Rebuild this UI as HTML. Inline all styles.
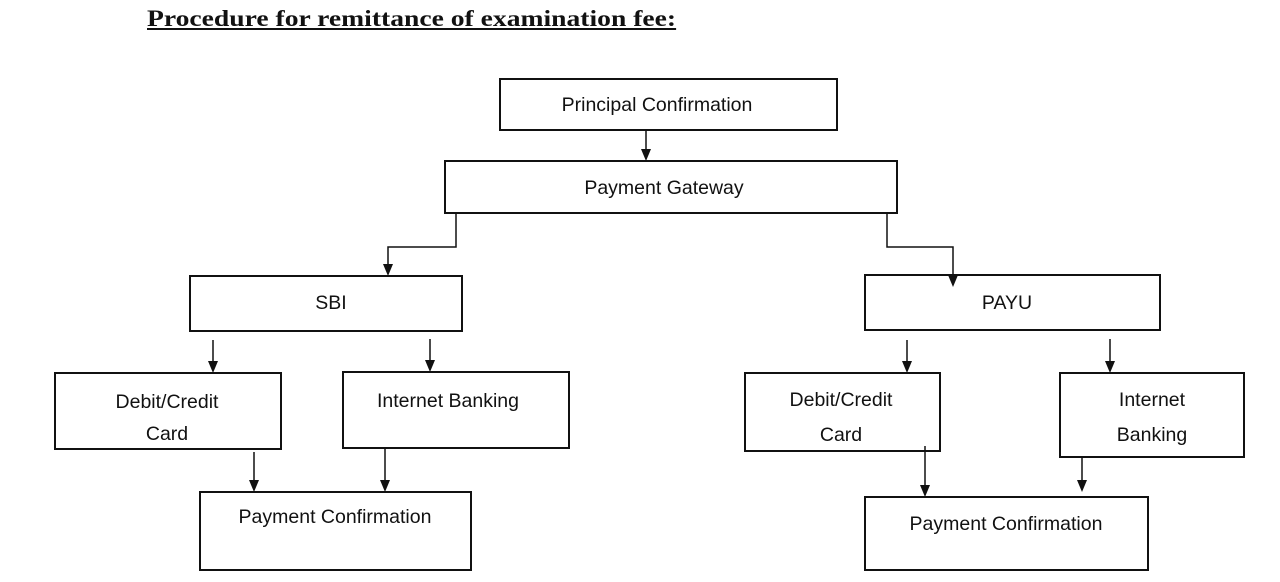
<!DOCTYPE html>
<html><head><meta charset="utf-8"><style>
body{margin:0;width:1280px;height:582px;background:#fff;overflow:hidden;position:relative;font-family:"Liberation Sans",sans-serif}
.t{position:absolute;left:147px;top:6px;font-family:"Liberation Serif",serif;font-weight:bold;font-size:23px;text-decoration:underline;color:#111;transform:scaleX(1.2);transform-origin:0 0;white-space:nowrap}
svg{position:absolute;left:0;top:0}
text{font-family:"Liberation Sans",sans-serif;font-size:19.5px;fill:#111}
</style></head><body>
<div class="t">Procedure for remittance of examination fee:</div>
<svg width="1280" height="582">
<g fill="none" stroke="#111" stroke-width="2">
<rect x="500" y="79" width="337" height="51"/>
<rect x="445" y="161" width="452" height="52"/>
<rect x="190" y="276" width="272" height="55"/>
<rect x="865" y="275" width="295" height="55"/>
<rect x="55" y="373" width="226" height="76"/>
<rect x="343" y="372" width="226" height="76"/>
<rect x="200" y="492" width="271" height="78"/>
<rect x="745" y="373" width="195" height="78"/>
<rect x="1060" y="373" width="184" height="84"/>
<rect x="865" y="497" width="283" height="73"/>
</g>
<g stroke="#111" stroke-width="1.5" fill="none">
<path d="M646 130 V149"/>
<path d="M456 213 V247 H388 V264"/>
<path d="M887 213 V247 H953 V275"/>
<path d="M213 340 V361"/>
<path d="M430 339 V360"/>
<path d="M254 452 V480"/>
<path d="M385 448 V480"/>
<path d="M907 340 V361"/>
<path d="M1110 339 V361"/>
<path d="M925 446 V485"/>
<path d="M1082 457 V480"/>
</g>
<g fill="#111">
<path d="M641 149 L651 149 L646 161 z"/>
<path d="M383 264 L393 264 L388 276 z"/>
<path d="M948 275 L958 275 L953 287 z"/>
<path d="M208 361 L218 361 L213 373 z"/>
<path d="M425 360 L435 360 L430 372 z"/>
<path d="M249 480 L259 480 L254 492 z"/>
<path d="M380 480 L390 480 L385 492 z"/>
<path d="M902 361 L912 361 L907 373 z"/>
<path d="M1105 361 L1115 361 L1110 373 z"/>
<path d="M920 485 L930 485 L925 497 z"/>
<path d="M1077 480 L1087 480 L1082 492 z"/>
</g>
<text x="657" y="111" text-anchor="middle">Principal Confirmation</text>
<text x="664" y="194" text-anchor="middle">Payment Gateway</text>
<text x="331" y="309" text-anchor="middle">SBI</text>
<text x="1007" y="309" text-anchor="middle">PAYU</text>
<text x="167" y="408" text-anchor="middle">Debit/Credit</text>
<text x="167" y="440" text-anchor="middle">Card</text>
<text x="448" y="407" text-anchor="middle">Internet Banking</text>
<text x="335" y="523" text-anchor="middle">Payment Confirmation</text>
<text x="841" y="406" text-anchor="middle">Debit/Credit</text>
<text x="841" y="441" text-anchor="middle">Card</text>
<text x="1152" y="406" text-anchor="middle">Internet</text>
<text x="1152" y="441" text-anchor="middle">Banking</text>
<text x="1006" y="530" text-anchor="middle">Payment Confirmation</text>
</svg>
</body></html>
